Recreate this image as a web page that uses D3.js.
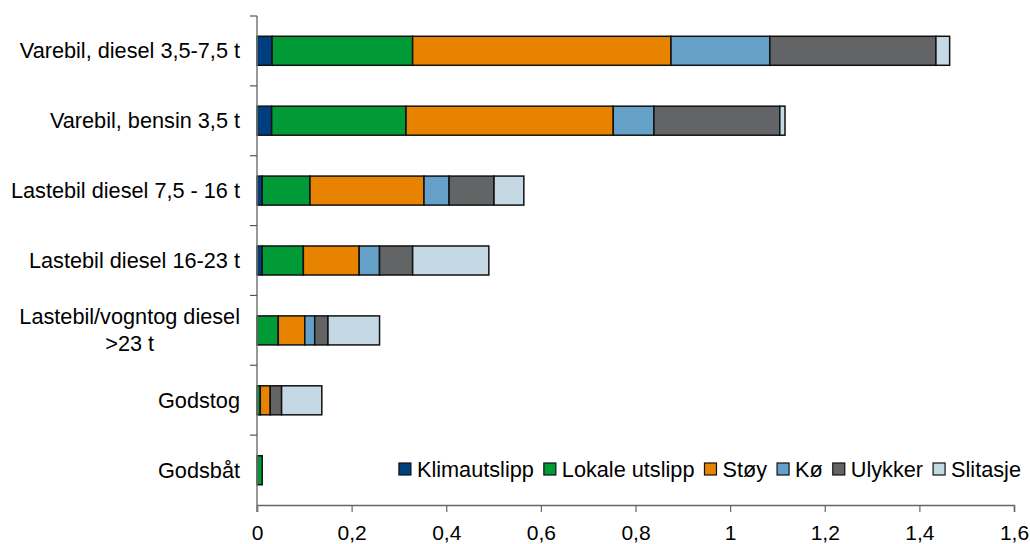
<!DOCTYPE html>
<html>
<head>
<meta charset="utf-8">
<script src="https://cdn.jsdelivr.net/npm/d3@7"></script>
<style>
  html, body { margin: 0; padding: 0; background: #fff; }
  svg { display: block; font-family: "Liberation Sans", Arial, sans-serif; }
</style>
</head>
<body>
<svg id="chart" width="1030" height="544"></svg>
<script>
// Categories (top to bottom); "\n" splits a label over two lines
const categories = [
  "Varebil, diesel 3,5-7,5 t",
  "Varebil, bensin 3,5 t",
  "Lastebil diesel 7,5 - 16 t",
  "Lastebil diesel 16-23 t",
  "Lastebil/vogntog diesel\n>23 t",
  "Godstog",
  "Godsbåt"
];

// Cost components per category
const klimautslipp  = [0.032, 0.031, 0.011, 0.011, 0.000, 0.000, 0.000];
const lokaleUtslipp = [0.297, 0.284, 0.101, 0.087, 0.045, 0.007, 0.011];
const stoy          = [0.546, 0.438, 0.241, 0.118, 0.056, 0.021, 0.000];
const ko            = [0.209, 0.086, 0.053, 0.043, 0.021, 0.000, 0.000];
const ulykker       = [0.351, 0.266, 0.095, 0.070, 0.028, 0.024, 0.000];
const slitasje      = [0.029, 0.011, 0.063, 0.161, 0.109, 0.085, 0.000];

const seriesNames = ["Klimautslipp", "Lokale utslipp", "Støy", "Kø", "Ulykker", "Slitasje"];
const seriesValues = [klimautslipp, lokaleUtslipp, stoy, ko, ulykker, slitasje];
const seriesColors = ["#003f7f", "#009a36", "#e88300", "#65a0c8", "#636466", "#c5d9e4"];

const xTicks = [0, 0.2, 0.4, 0.6, 0.8, 1, 1.2, 1.4, 1.6];

// Table rows for d3.stack
const rows = categories.map((c, i) => {
  const r = { category: c };
  seriesNames.forEach((s, j) => { r[s] = seriesValues[j][i]; });
  return r;
});

const svg = d3.select("#chart");
const plotLeft = 257, plotRight = 1014, plotTop = 16, plotBottom = 505;
const fontSize = "21.7px";

const x = d3.scaleLinear().domain([0, 1.6]).range([plotLeft, plotRight]);
const y = d3.scaleBand().domain(categories).range([plotTop, plotBottom]).paddingInner(0.585).paddingOuter(0.29);

const stacked = d3.stack().keys(seriesNames)(rows);
const color = d3.scaleOrdinal().domain(seriesNames).range(seriesColors);

// Bars
const layers = svg.append("g").selectAll("g")
  .data(stacked).join("g")
  .attr("fill", d => color(d.key));

layers.selectAll("rect")
  .data(d => d.filter(p => p[1] - p[0] > 0))
  .join("rect")
  .attr("x", d => x(d[0]))
  .attr("y", d => y(d.data.category))
  .attr("width", d => x(d[1]) - x(d[0]))
  .attr("height", y.bandwidth())
  .attr("stroke", "#111")
  .attr("stroke-width", 1.5);

// X axis
const xAxis = svg.append("g")
  .attr("transform", `translate(0,${plotBottom})`)
  .call(d3.axisBottom(x).tickValues(xTicks).tickSize(7).tickPadding(13)
    .tickFormat(d => String(d).replace(".", ",")));
xAxis.select(".domain").attr("stroke", "#666").attr("stroke-width", 1.5);
xAxis.selectAll(".tick line").attr("stroke", "#666").attr("stroke-width", 1.2);
xAxis.selectAll(".tick text")
  .attr("fill", "#000")
  .style("font-size", "21px")
  .style("font-family", "Liberation Sans, Arial, sans-serif");

// Y axis: line plus ticks at the band boundaries
const yAxisG = svg.append("g");
yAxisG.append("line")
  .attr("x1", plotLeft).attr("x2", plotLeft)
  .attr("y1", plotTop).attr("y2", plotBottom + 7)
  .attr("stroke", "#777").attr("stroke-width", 1.5);
const boundaries = d3.range(categories.length).map(i => plotTop + i * (plotBottom - plotTop) / categories.length);
yAxisG.selectAll("line.tick")
  .data(boundaries).join("line")
  .attr("class", "tick")
  .attr("x1", plotLeft - 7).attr("x2", plotLeft)
  .attr("y1", d => d).attr("y2", d => d)
  .attr("stroke", "#555").attr("stroke-width", 1.2);

// Category labels
const labelRight = 240;
const bandCenter = c => y(c) + y.bandwidth() / 2;
const labels = svg.append("g").selectAll("text")
  .data(categories).join("text")
  .attr("x", labelRight)
  .attr("y", d => bandCenter(d))
  .attr("text-anchor", "end")
  .attr("fill", "#000")
  .style("font-size", fontSize);

const lineHeight = 27;
labels.each(function(d) {
  const lines = d.split("\n");
  const t = d3.select(this);
  const first = -((lines.length - 1) * lineHeight) / 2 + 7.5;
  lines.forEach((ln, i) => {
    t.append("tspan")
      .attr("x", labelRight)
      .attr("dy", i === 0 ? first : lineHeight)
      .text(ln);
  });
});
// Wrapped labels: lines centred on each other, block right-aligned
labels.filter(d => d.includes("\n")).each(function() {
  const t = d3.select(this);
  const spans = t.selectAll("tspan").nodes();
  const maxW = d3.max(spans, s => s.getComputedTextLength());
  const cx = labelRight - maxW / 2;
  t.attr("text-anchor", "middle");
  spans.forEach(s => d3.select(s).attr("x", cx));
});

// Legend, laid out along one row and right-aligned
const legendY = 463, sq = 12;
const legend = svg.append("g");
const items = legend.selectAll("g").data(seriesNames).join("g");
items.append("rect")
  .attr("width", sq).attr("height", sq)
  .attr("fill", d => color(d))
  .attr("stroke", "#111").attr("stroke-width", 1.2);
items.append("text")
  .attr("x", sq + 6).attr("y", sq / 2).attr("dy", "0.36em")
  .attr("fill", "#000")
  .style("font-size", fontSize)
  .text(d => d);
let cursor = 0;
const offsets = [];
items.each(function() {
  const w = this.querySelector("text").getComputedTextLength();
  offsets.push(cursor);
  cursor += sq + 6 + w + 10;
});
const legendWidth = cursor - 10;
const legendX = 1021 - legendWidth;
items.attr("transform", (d, i) => `translate(${legendX + offsets[i]},${legendY})`);
</script>
</body>
</html>
